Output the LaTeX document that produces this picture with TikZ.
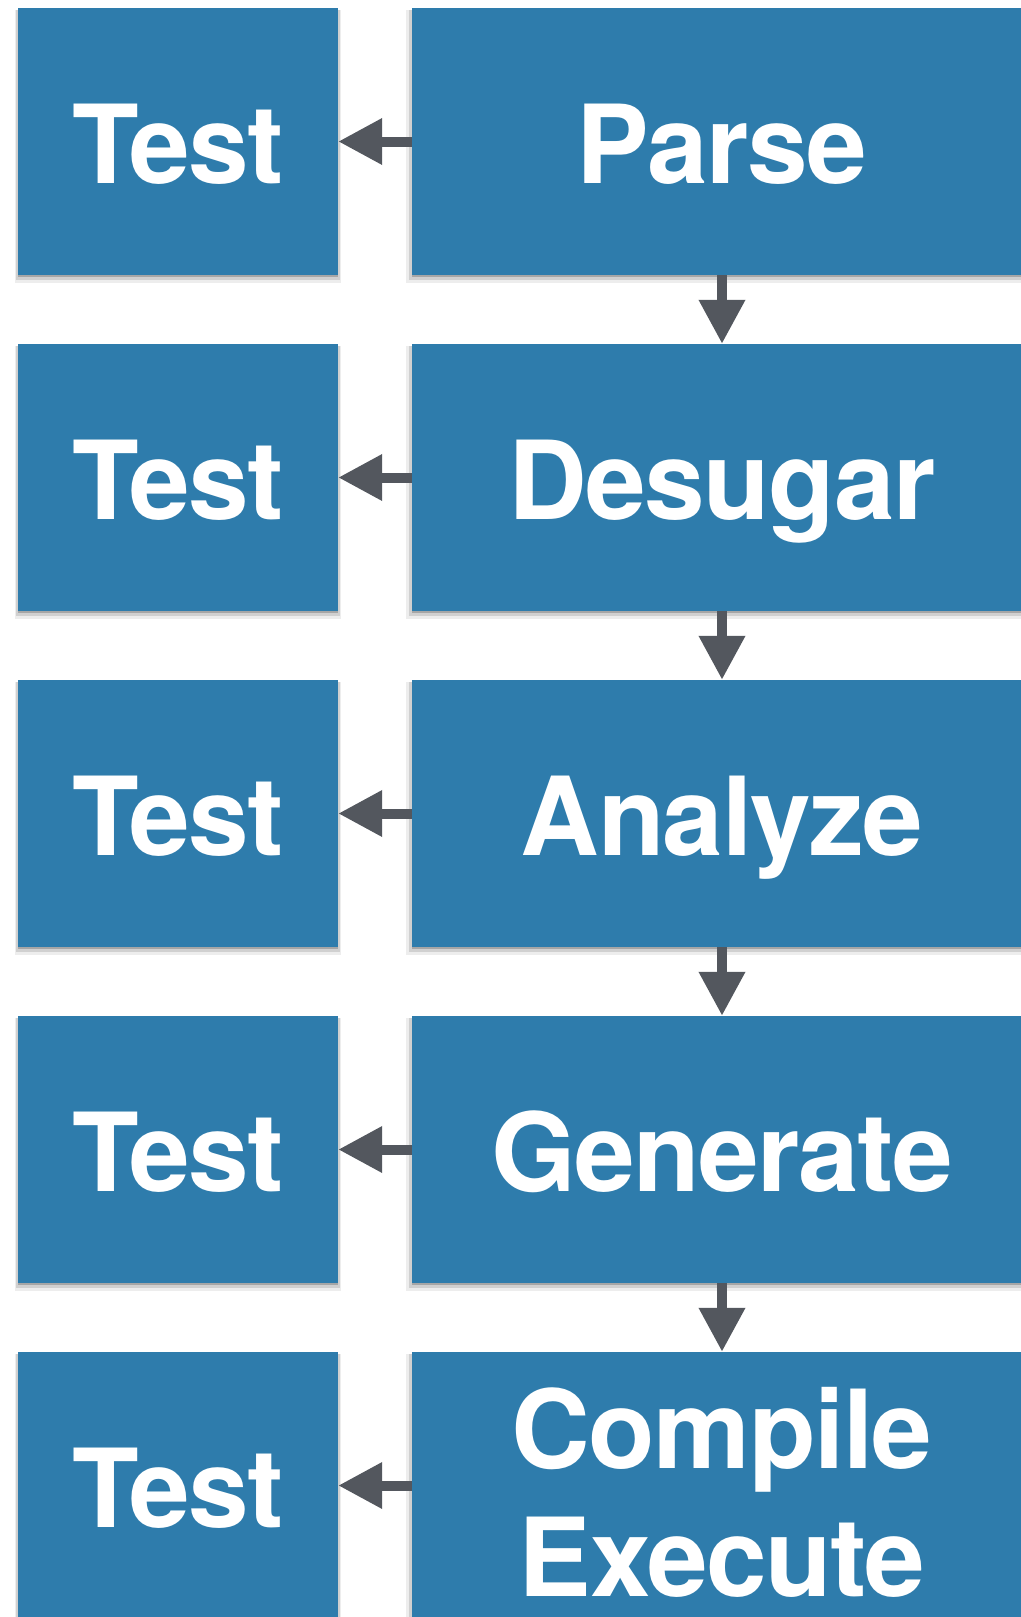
\documentclass[tikz,border=0pt]{standalone}
\usepackage{fontspec}
\setmainfont[LetterSpace=-1.5]{TeX Gyre Heros}
\usetikzlibrary{arrows.meta,shadows}
\definecolor{boxblue}{RGB}{46,124,172}
\definecolor{arrgray}{RGB}{83,87,94}
\begin{document}
\begin{tikzpicture}[x=1pt,y=-1pt,
  stagebox/.style={rectangle, fill=boxblue, inner sep=0pt, text=white,
    font=\fontsize{109}{128}\selectfont\bfseries, text height=83pt, text depth=0pt,
    general shadow={shadow yshift=-5pt, opacity=.07, fill=black, shadow scale=1.02},
    general shadow={shadow yshift=-3.5pt, opacity=.12, fill=black, shadow scale=1.01},
    general shadow={shadow yshift=-2pt, opacity=.2, fill=black}},
  testbox/.style={stagebox, minimum width=320pt, minimum height=267pt},
  phasebox/.style={stagebox, minimum width=620pt, minimum height=267pt},
  conn/.style={draw=arrgray, line width=10pt, -{Triangle[length=44pt,width=44pt]}}]
\useasboundingbox (0,0) rectangle (1020,1617);
\node[testbox]  (t1) at (178,141.5)  {Test};
\node[phasebox] (p1) at (722,141.5)  {Parse};
\node[testbox]  (t2) at (178,477.5)  {Test};
\node[phasebox] (p2) at (722,477.5)  {Desugar};
\node[testbox]  (t3) at (178,813.5)  {Test};
\node[phasebox] (p3) at (722,813.5)  {Analyze};
\node[testbox]  (t4) at (178,1149.5) {Test};
\node[phasebox] (p4) at (722,1149.5) {Generate};
\node[testbox]  (t5) at (178,1485.5) {Test};
\node[phasebox, align=center, text height=221pt, text depth=0pt] (p5) at (722,1485.5) {Compile\\Execute};
\draw[conn] (p1.west) -- (t1.east);
\draw[conn] (p2.west) -- (t2.east);
\draw[conn] (p3.west) -- (t3.east);
\draw[conn] (p4.west) -- (t4.east);
\draw[conn] (p5.west) -- (t5.east);
\draw[conn] (p1.south) -- (p2.north);
\draw[conn] (p2.south) -- (p3.north);
\draw[conn] (p3.south) -- (p4.north);
\draw[conn] (p4.south) -- (p5.north);
\end{tikzpicture}
\end{document}
